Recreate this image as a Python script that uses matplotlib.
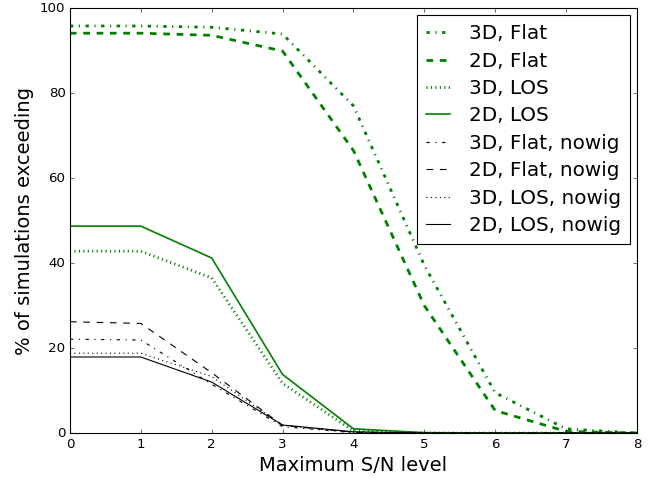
import matplotlib
matplotlib.use("Agg")
import matplotlib.pyplot as plt

plt.style.use("classic")

sn_levels = [0, 1, 2, 3, 4, 5, 6, 7, 8]
flat_3d = [95.8, 95.8, 95.5, 93.9, 77.0, 39.5, 9.5, 1.0, 0.0]
flat_2d = [94.1, 94.1, 93.6, 89.9, 66.5, 30.0, 5.3, 0.4, 0.0]
los_3d = [42.8, 42.8, 36.5, 11.7, 0.5, 0.0, 0.0, 0.0, 0.0]
los_2d = [48.7, 48.7, 41.2, 13.8, 1.0, 0.1, 0.0, 0.0, 0.0]
flat_3d_nowig = [22.1, 21.9, 11.5, 1.5, 0.1, 0.0, 0.0, 0.0, 0.0]
flat_2d_nowig = [26.2, 25.8, 14.2, 1.8, 0.2, 0.0, 0.0, 0.0, 0.0]
los_3d_nowig = [18.8, 18.8, 13.3, 1.8, 0.2, 0.0, 0.0, 0.0, 0.0]
los_2d_nowig = [17.9, 17.9, 12.0, 1.9, 0.3, 0.0, 0.0, 0.0, 0.0]

labels = ["3D, Flat", "2D, Flat", "3D, LOS", "2D, LOS",
          "3D, Flat, nowig", "2D, Flat, nowig", "3D, LOS, nowig", "2D, LOS, nowig"]

fig = plt.figure(figsize=(8.25, 5.975), dpi=80, facecolor="white")
ax = fig.add_axes([0.106, 0.094, 0.859, 0.889])

green = (0, 0.5, 0)
ax.plot(sn_levels, flat_3d, linestyle="-.", color=green, lw=2.5, label=labels[0])
ax.plot(sn_levels, flat_2d, linestyle="--", color=green, lw=2.5, label=labels[1])
ax.plot(sn_levels, los_3d, linestyle=":", color=green, lw=2.5, label=labels[2])
ax.plot(sn_levels, los_2d, linestyle="-", color=green, lw=1.5, label=labels[3])
ax.plot(sn_levels, flat_3d_nowig, linestyle="-.", color="k", lw=1, label=labels[4])
ax.plot(sn_levels, flat_2d_nowig, linestyle="--", color="k", lw=1, label=labels[5])
ax.plot(sn_levels, los_3d_nowig, linestyle=":", color="k", lw=1, label=labels[6])
ax.plot(sn_levels, los_2d_nowig, linestyle="-", color="k", lw=1, label=labels[7])

ax.set_xlim(0, 8)
ax.set_ylim(0, 100)
ax.set_xticks(range(0, 9))
ax.set_yticks(range(0, 101, 20))
ax.tick_params(labelsize=12)
ax.set_xlabel("Maximum S/N level", fontsize=17.5)
ax.set_ylabel("% of simulations exceeding", fontsize=17.5)
ax.legend(loc="upper right", fontsize=18, numpoints=1, handlelength=1.2,
          handletextpad=0.95, borderpad=0.45, borderaxespad=0.35,
          labelspacing=0.42)

fig.savefig("out.png", dpi=80, facecolor="white")
